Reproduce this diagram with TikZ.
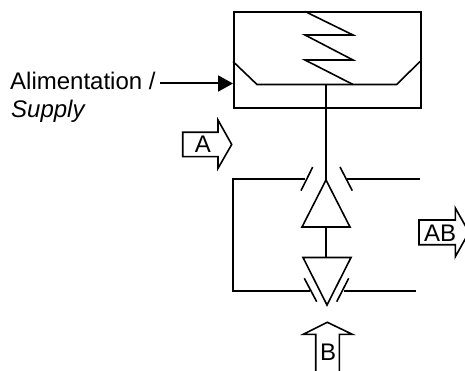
\documentclass[tikz,border=0pt]{standalone}
\usepackage{fontspec}
\setmainfont{Liberation Sans}
\usetikzlibrary{arrows.meta}
\tikzset{
  ln/.style={draw=black,line width=1.6pt,line join=miter},
  lbl/.style={inner sep=0pt,font=\fontsize{24}{28}\selectfont},
  blk/.style={draw=black,line width=1.6pt,fill=white,line join=miter}
}
\begin{document}
\begin{tikzpicture}[x=1pt,y=-1pt]
\useasboundingbox (0,0) rectangle (465,371);
\clip (0,0) rectangle (465,371);
\node[ln,minimum width=187pt,minimum height=96pt,inner sep=0pt,anchor=north west] (valve) at (233,11.5) {};
% inner seat and spring
\draw[ln] (233,61.5) -- (257,84.5) -- (396.7,84.5) -- (420,61.5);
\draw[ln] (305,11.5) -- (353,35) -- (305,35) -- (353,60) -- (305,60) -- (353,84.5);
% coordinates
\coordinate (stemtop) at (326,84.5);
\coordinate (apex) at (326,180);
\coordinate (sfrom) at (160,83.5);
\coordinate (sto) at (233,83.5);
\draw[ln] (stemtop) -- (apex);
\draw[ln,line width=2pt,-{Triangle[length=15pt,width=16pt]}] (sfrom) -- (sto);
% triangles
\draw[ln] (apex) -- (302,227) -- (350,227) -- cycle;
\coordinate (lowtop) at (326,227);
\coordinate (lowbase) at (326,257.5);
\draw[ln] (lowtop) -- (lowbase);
\draw[ln] (303,257.5) -- (351,257.5) -- (327,305) -- cycle;
% rails
\draw[ln] (305,179) -- (233,179) -- (233,291) -- (310,291);
\draw[ln] (347,179) -- (420,179);
\draw[ln] (344,291) -- (416,291);
% seats
\draw[ln] (301,190.7) -- (312.7,167);
\draw[ln] (340,167) -- (352.3,190.7);
\draw[ln] (304.3,278.3) -- (316.7,301.7);
\draw[ln] (348.7,278.3) -- (336.7,301.7);
% block arrows
\draw[blk] (182.7,132.3) -- (218,132.3) -- (218,120) -- (231.7,144.5) -- (218,168.3) -- (218,156.7) -- (182.7,156.7) -- cycle;
\draw[blk] (419,220) -- (455.3,220) -- (455.3,208) -- (469,232.3) -- (455.3,256.7) -- (455.3,244.7) -- (419,244.7) -- cycle;
\draw[blk] (315.7,375) -- (315.7,334.3) -- (303.3,334.3) -- (327.3,322.3) -- (352.3,334.3) -- (339.3,334.3) -- (339.3,375);
% labels
\node[lbl,anchor=base west] (supply1) at (10,90) {Alimentation /};
\node[lbl,anchor=base west] (supply2) at (11,118) {\itshape Supply};
\node[lbl,anchor=base] (la) at (203,153) {A};
\node[lbl,anchor=base] (lab) at (440,241) {AB};
\node[lbl,anchor=base] (lb) at (328,360) {B};
\end{tikzpicture}
\end{document}
